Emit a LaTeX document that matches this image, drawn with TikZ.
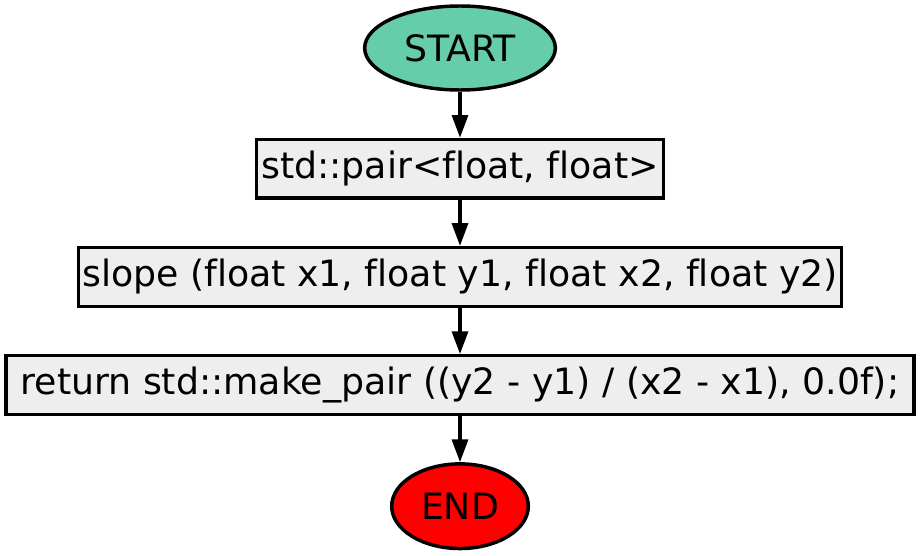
\documentclass[tikz,border=0pt]{standalone}
\usepackage{fontspec}
\setmainfont[Ligatures={NoCommon}]{DejaVu Sans}
\usetikzlibrary{arrows.meta,positioning,shapes.geometric}
\definecolor{startfill}{HTML}{66CDAA}
\definecolor{endfill}{HTML}{FF0000}
\definecolor{boxfill}{HTML}{EEEEEE}

\begin{document}
\begin{tikzpicture}[x=0.75pt,y=0.75pt,>={Triangle[length=17pt,width=12pt]},
  node distance=34.5pt,
  every node/.style={font=\fontsize{27.2}{32}\selectfont},
  term/.style={ellipse,draw,line width=2.6pt,inner sep=0pt},
  stepbox/.style={rectangle,draw,line width=2.6pt,fill=boxfill,minimum height=44pt,inner sep=0pt,text height=20.5pt,text depth=6.5pt},
  flow/.style={->,line width=2.4pt}]
\useasboundingbox (0,0) rectangle (920,-556);
\node[term,fill=startfill,minimum width=143pt,minimum height=63pt] (start) at (460,-48) {START};
\node[stepbox,below=of start,minimum width=305pt] (decl) {std::pair<float, float>};
\node[stepbox,below=of decl,minimum width=572pt] (head) {slope (float x1, float y1, float x2, float y2)};
\node[stepbox,below=of head,minimum width=681pt] (ret) {return std::make\_pair ((y2 - y1) / (x2 - x1), 0.0f);};
\node[term,fill=endfill,below=of ret,minimum width=102.5pt,minimum height=63.5pt] (end) {END};
\draw[flow] (start) -- (decl);
\draw[flow] (decl) -- (head);
\draw[flow] (head) -- (ret);
\draw[flow] (ret) -- (end);
\end{tikzpicture}
\end{document}
